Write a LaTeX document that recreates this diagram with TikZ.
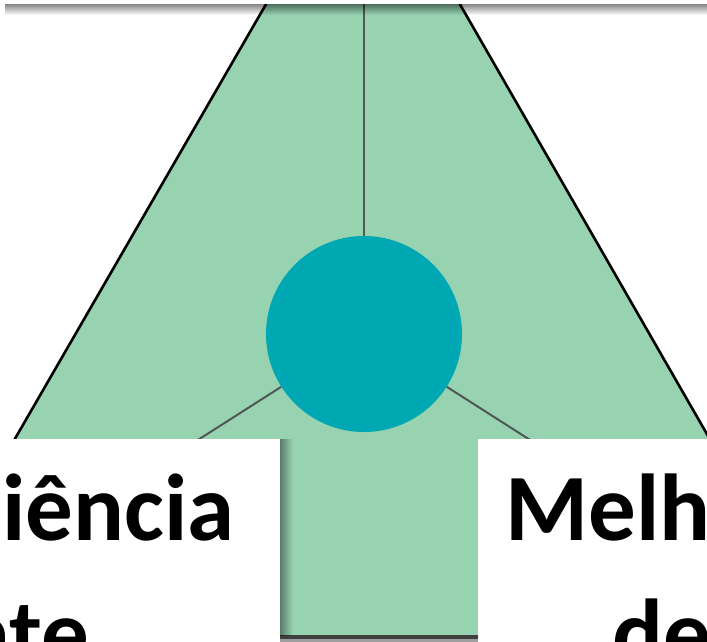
\documentclass[tikz,border=0pt]{standalone}
\usepackage{fontspec}
\setmainfont{Carlito}
\usetikzlibrary{fadings}
\definecolor{tgreen}{RGB}{151,211,177}
\definecolor{tteal}{RGB}{0,168,179}
\definecolor{tspoke}{RGB}{80,88,86}
\definecolor{tbottom}{RGB}{64,64,64}
\tikzfading[name=fadedown, top color=transparent!50, bottom color=transparent!100]
\tikzfading[name=faderight, left color=transparent!60, right color=transparent!100]
\begin{document}
\begin{tikzpicture}[x=1pt,y=-1pt,
  edgeline/.style={line width=2.6pt, draw=black},
  spoke/.style={line width=2pt, draw=tspoke},
  hubstyle/.style={circle, fill=tteal, minimum size=196pt, inner sep=0pt},
  lbl/.style={font=\fontsize{95}{114}\selectfont\bfseries, inner sep=0pt, text=black}]
\useasboundingbox (0,0) rectangle (707,641);
\clip (0,0) rectangle (707,641);
% trapezoid body
\fill[tgreen] (280,-20) -- (446,-20) -- (823,636) -- (-99,636) -- cycle;
\draw[edgeline] (280,-20) -- (-99,636);
\draw[edgeline] (446,-20) -- (823,636);
% bottom edge
\draw[line width=4pt, draw=tbottom] (-99,637) -- (823,637);
\fill[gray!75] (-99,639) rectangle (823,660);
% hub and spokes
\node[hubstyle] (hub) at (364,334) {};
\coordinate (topend) at (364,-5);
\coordinate (lend) at (190,445);
\coordinate (rend) at (538,445);
\draw[spoke] (topend) -- (hub);
\draw[spoke] (hub) -- (lend);
\draw[spoke] (hub) -- (rend);
% top box with shadow
\fill[white] (5,-30) rectangle (720,3.5);
\fill[black, path fading=fadedown] (5,3.5) rectangle (720,15);
% left box with shadow
\fill[black, path fading=faderight] (280,439) rectangle (293,636);
\fill[white] (-50,439) rectangle (280,700);
% right box
\fill[white] (478,439) rectangle (760,700);
% texts
\node[lbl, anchor=base west] (t1) at (2,540) {iência};
\node[lbl, anchor=base east] (t2) at (89,665) {ate};
\node[lbl, anchor=base west] (t3) at (505,540) {Melh};
\node[lbl, anchor=base west] (t4) at (612,665) {de};
\end{tikzpicture}
\end{document}
